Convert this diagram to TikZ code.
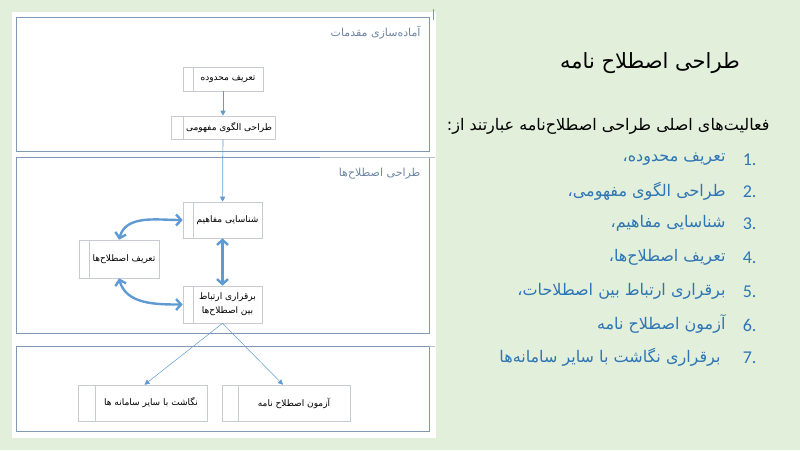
\documentclass[tikz,border=0pt]{standalone}
\usepackage{fontspec}
\usetikzlibrary{arrows.meta,positioning}
\TeXXeTstate=1
\newfontfamily\arabicfont[Script=Arabic]{DejaVu Sans}
\newfontfamily\numfont{Carlito}
\definecolor{slidebg}{RGB}{226,239,218}
\definecolor{laneblue}{RGB}{128,152,180}
\definecolor{boxgray}{RGB}{200,204,210}
\definecolor{flowblue}{RGB}{96,154,210}
\definecolor{listblue}{RGB}{46,117,182}
\definecolor{lanetext}{RGB}{110,135,165}
\tikzset{
  procbox/.style={draw=boxgray, fill=white, line width=0.6pt, inner sep=1pt,
    font=\arabicfont\fontsize{9}{14}\selectfont, align=center,
    path picture={\draw[boxgray, line width=0.6pt]
      ([xshift=#1]path picture bounding box.north west) --
      ([xshift=#1]path picture bounding box.south west);}},
  procbox/.default=10pt,
  lane/.style={draw=laneblue, line width=0.9pt},
  lanelabel/.style={anchor=east, text=lanetext, font=\arabicfont\fontsize{11}{13}\selectfont},
  flowthin/.style={draw=flowblue, line width=0.7pt, -{Triangle[length=5pt,width=5pt]}},
  flowthick/.style={draw=flowblue, line width=2.4pt,
    {Straight Barb[length=5pt,width=11pt]}-{Straight Barb[length=5pt,width=11pt]}},
  itemtext/.style={anchor=east, text=listblue, font=\arabicfont\fontsize{16}{19}\selectfont},
  itemnum/.style={anchor=east, text=listblue, font=\numfont\fontsize{18}{20}\selectfont},
}
\begin{document}
\begin{tikzpicture}[x=1pt,y=-1pt]
  \fill[slidebg] (0,0) rectangle (800,450);
  \fill[white] (12,12) rectangle (436,438);
  %% lanes
  \draw[lane] (16,17) rectangle (429,151);
  \draw[lane] (16,157) rectangle (429,333);
  \draw[lane] (16,346) rectangle (429,431);
  \draw[laneblue!60, line width=0.6pt] (320,157) -- (435,157);
  \draw[laneblue!60, line width=0.6pt] (429,346) -- (435,346);
  \draw[laneblue, line width=0.6pt] (433,9) -- (433,20);
  \node[lanelabel] (lane1) at (424,33) {\beginR آماده^^^^200cسازی مقدمات\endR};
  \node[lanelabel] (lane2) at (424,174) {\beginR طراحی اصطلاح^^^^200cها\endR};
  %% process boxes
  \node[procbox, minimum width=80pt, minimum height=24pt] (b1) at (223,79) {\hspace*{10pt}\beginR تعریف محدوده\endR};
  \node[procbox=12pt, minimum width=104pt, minimum height=23pt] (b2) at (223,127.5) {\hspace*{12pt}\beginR طراحی الگوی مفهومی\endR};
  \node[procbox, minimum width=79pt, minimum height=36pt] (b3) at (222.5,220) {\hspace*{10pt}\beginR شناسایی مفاهیم\endR};
  \node[procbox, minimum width=80pt, minimum height=38pt] (b4) at (119,259) {\hspace*{10pt}\beginR تعریف اصطلاح^^^^200cها\endR};
  \node[procbox, minimum width=79pt, minimum height=37pt] (b5) at (222.5,304.5) {\hspace*{10pt}\beginR برقراری ارتباط\endR\\\hspace*{10pt}\beginR بین اصطلاح^^^^200cها\endR};
  \node[procbox=17pt, minimum width=129pt, minimum height=36pt] (b6) at (142.5,403) {\hspace*{17pt}\beginR نگاشت با سایر سامانه ها\endR};
  \node[procbox=16pt, minimum width=128pt, minimum height=36pt] (b7) at (286,403) {\hspace*{16pt}\beginR آزمون اصطلاح نامه\endR};
  %% connectors
  \draw[flowthin] (b1) -- (b2);
  \draw[flowthin] (b2) -- (b3);
  \draw[flowthick] (b3) -- (b5);
  \draw[flowthick] (b4.north) to[out=75,in=180] (b3.west);
  \draw[flowthick] (b4.south) to[out=-75,in=180] (b5.west);
  \draw[flowthin, line width=0.5pt] (b5.south) -- ([xshift=2pt]b6.north);
  \draw[flowthin, line width=0.5pt] (b5.south) -- ([xshift=-3pt]b7.north);
  %% slide text
  \node[font=\arabicfont\fontsize{21}{25}\selectfont] (title) at (650,63) {\beginR طراحی اصطلاح نامه\endR};
  \node[anchor=east, font=\arabicfont\fontsize{16}{19}\selectfont] (intro) at (773,126) {\beginR فعالیت^^^^200cهای اصلی طراحی اصطلاح^^^^200cنامه عبارتند از:\endR};
  \node[itemnum] (n1) at (760,160) {1.};
  \node[itemnum] (n2) at (760,192) {2.};
  \node[itemnum] (n3) at (760,224) {3.};
  \node[itemnum] (n4) at (760,258) {4.};
  \node[itemnum] (n5) at (760,292) {5.};
  \node[itemnum] (n6) at (760,325) {6.};
  \node[itemnum] (n7) at (760,358) {7.};
  \node[itemtext] (i1) at (729,159) {\beginR تعریف محدوده،\endR};
  \node[itemtext] (i2) at (729,191) {\beginR طراحی الگوی مفهومی،\endR};
  \node[itemtext] (i3) at (729,223) {\beginR شناسایی مفاهیم،\endR};
  \node[itemtext] (i4) at (729,257) {\beginR تعریف اصطلاح^^^^200cها،\endR};
  \node[itemtext] (i5) at (729,291) {\beginR برقراری ارتباط بین اصطلاحات،\endR};
  \node[itemtext] (i6) at (729,324) {\beginR آزمون اصطلاح نامه\endR};
  \node[itemtext] (i7) at (724,357) {\beginR برقراری نگاشت با سایر سامانه^^^^200cها\endR};
\end{tikzpicture}
\end{document}
